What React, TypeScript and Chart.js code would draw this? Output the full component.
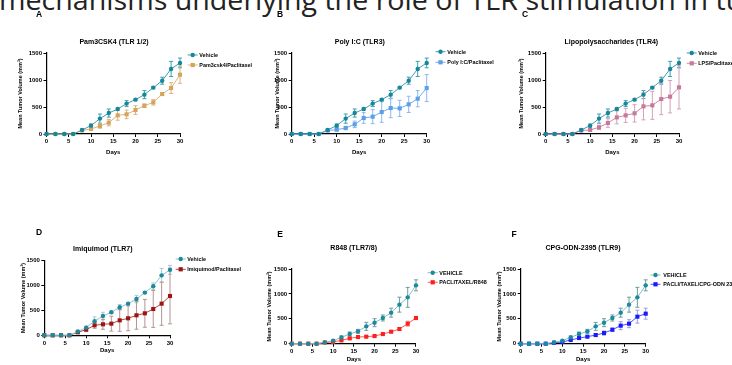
import React, { useEffect, useRef } from 'react';
import { Chart, registerables } from 'chart.js';

Chart.register(...registerables);

const DAYS = [0, 2, 4, 6, 8, 10, 12, 14, 16, 18, 20, 22, 24, 26, 28, 30];
const X_TICKS = [0, 5, 10, 15, 20, 25, 30];
const Y_TICKS = [0, 500, 1000, 1500];

const VEHICLE_TLR = [0, 0, 0, 0, 75, 155, 285, 388, 462, 563, 636, 729, 859, 987, 1205, 1316];
const VEHICLE_TLR_ERR = [0, 0, 0, 0, 12, 30, 85, 75, 20, 55, 15, 75, 20, 65, 140, 90];

const PAM3 = [0, 0, 0, 0, 68, 93, 148, 210, 345, 364, 444, 524, 586, 740, 851, 1098];
const PAM3_ERR = [0, 0, 0, 0, 10, 20, 40, 60, 90, 80, 80, 30, 50, 20, 100, 160];

const POLYIC = [0, 0, 0, 0, 65, 80, 111, 179, 296, 321, 407, 481, 475, 549, 654, 851];
const POLYIC_ERR = [0, 0, 0, 0, 10, 20, 30, 60, 100, 130, 190, 180, 150, 150, 150, 250];

const LPS = [0, 0, 0, 0, 65, 75, 123, 204, 308, 345, 383, 512, 531, 648, 691, 864];
const LPS_ERR = [0, 0, 0, 0, 10, 20, 40, 80, 120, 130, 160, 250, 260, 290, 300, 400];

const IMIQ = [0, 0, 0, 0, 60, 114, 201, 221, 234, 301, 342, 402, 442, 529, 636, 790];
const IMIQ_ERR = [0, 0, 0, 0, 20, 40, 60, 100, 150, 220, 250, 280, 280, 370, 435, 560];

const VEHICLE_TLR7 = [0, 0, 0, 0, 27, 60, 127, 194, 248, 348, 422, 516, 623, 784, 931, 1172];
const VEHICLE_TLR7_ERR = [0, 0, 0, 0, 5, 10, 30, 40, 40, 80, 80, 60, 90, 150, 200, 110];

const R848 = [0, 0, 0, 0, 25, 35, 67, 107, 134, 141, 154, 194, 241, 295, 402, 516];
const R848_ERR = [0, 0, 0, 0, 5, 5, 10, 15, 10, 10, 15, 20, 15, 30, 50, 25];

const CPG = [0, 0, 0, 0, 20, 34, 74, 114, 141, 174, 214, 281, 362, 402, 543, 603];
const CPG_ERR = [0, 0, 0, 0, 5, 8, 15, 20, 20, 30, 40, 30, 80, 80, 130, 110];

const FONT = '"Liberation Sans", Arial, Helvetica, sans-serif';
const Y_TITLE = 'Mean Tumor Volume (mm\u00B3)';

type Series = {
  label: string;
  values: number[];
  errors: number[];
  color: string;
  lineColor: string;
  errColor: string;
  style: 'circle' | 'rect';
};

type PanelCfg = {
  letter: string;
  letterX: number;
  letterY: number;
  title: string;
  titleX: number;
  titleY: number;
  area: { l: number; t: number; r: number; b: number };
  yTitleX: number;
  xTitleY: number;
  legendX: number;
  legendTextX: number;
  legendY: number[];
  series: Series[];
};

const teal = '#17869a';
const tealLine = '#3d9fb0';

const vehA = (label: string): Series => ({
  label,
  values: VEHICLE_TLR,
  errors: VEHICLE_TLR_ERR,
  color: teal,
  lineColor: tealLine,
  errColor: tealLine,
  style: 'circle',
});

const PANELS: PanelCfg[] = [
  {
    letter: 'A', letterX: 39, letterY: 14.5,
    title: 'Pam3CSK4 (TLR 1/2)', titleX: 114, titleY: 42,
    area: { l: 46.5, t: 53, r: 180, b: 134 }, yTitleX: 20.5, xTitleY: 152,
    legendX: 192.7, legendTextX: 199.3, legendY: [55, 65],
    series: [
      vehA('Vehicle'),
      { label: 'Pam3csk4/Paclitaxel', values: PAM3, errors: PAM3_ERR, color: '#d4a35c', lineColor: '#dcb47c', errColor: '#dcb47c', style: 'rect' },
    ],
  },
  {
    letter: 'B', letterX: 280, letterY: 14.5,
    title: 'Poly I:C (TLR3)', titleX: 359.8, titleY: 42,
    area: { l: 291.7, t: 53, r: 426.7, b: 134 }, yTitleX: 277.7, xTitleY: 152,
    legendX: 440.5, legendTextX: 447.3, legendY: [51.7, 62.3],
    series: [
      vehA('Vehicle'),
      { label: 'Poly I:C/Paclitaxel', values: POLYIC, errors: POLYIC_ERR, color: '#5c9ee8', lineColor: '#74abec', errColor: '#8ab9f0', style: 'rect' },
    ],
  },
  {
    letter: 'C', letterX: 525, letterY: 15,
    title: 'Lipopolysaccharides (TLR4)', titleX: 611.3, titleY: 42,
    area: { l: 545.7, t: 53, r: 679, b: 134 }, yTitleX: 521.7, xTitleY: 152,
    legendX: 691.7, legendTextX: 698.3, legendY: [53, 63.3],
    series: [
      vehA('Vehicle'),
      { label: 'LPS/Paclitaxel', values: LPS, errors: LPS_ERR, color: '#c7799b', lineColor: '#cf8aa8', errColor: '#d6a0b6', style: 'rect' },
    ],
  },
  {
    letter: 'D', letterX: 39, letterY: 232.7,
    title: 'Imiquimod (TLR7)', titleX: 102.8, titleY: 248.7,
    area: { l: 44.3, t: 260.7, r: 170, b: 335.3 }, yTitleX: 23.3, xTitleY: 350.7,
    legendX: 180.7, legendTextX: 187.3, legendY: [259, 269.3],
    series: [
      { label: 'Vehicle', values: VEHICLE_TLR, errors: VEHICLE_TLR_ERR, color: '#1a8a9c', lineColor: '#86c4cc', errColor: '#a9c9cc', style: 'circle' },
      { label: 'Imiquimod/Paclitaxel', values: IMIQ, errors: IMIQ_ERR, color: '#9e1414', lineColor: '#b04848', errColor: '#b89494', style: 'rect' },
    ],
  },
  {
    letter: 'E', letterX: 280, letterY: 235,
    title: 'R848 (TLR7/8)', titleX: 353.7, titleY: 248.3,
    area: { l: 291.7, t: 269, r: 416, b: 343.7 }, yTitleX: 269.3, xTitleY: 359.3,
    legendX: 432.7, legendTextX: 439.3, legendY: [272.7, 282.3],
    series: [
      { label: 'VEHICLE', values: VEHICLE_TLR7, errors: VEHICLE_TLR7_ERR, color: '#1a8a9c', lineColor: '#7fc0c8', errColor: '#6f9ca0', style: 'circle' },
      { label: 'PACLITAXEL/R848', values: R848, errors: R848_ERR, color: '#ff1e1e', lineColor: '#ff5a5a', errColor: '#e89090', style: 'rect' },
    ],
  },
  {
    letter: 'F', letterX: 514, letterY: 235,
    title: 'CPG-ODN-2395 (TLR9)', titleX: 583, titleY: 248.3,
    area: { l: 520.7, t: 269, r: 645.7, b: 343.7 }, yTitleX: 499.3, xTitleY: 359.3,
    legendX: 655.5, legendTextX: 663.3, legendY: [275, 284.3],
    series: [
      { label: 'VEHICLE', values: VEHICLE_TLR7, errors: VEHICLE_TLR7_ERR, color: '#1a8a9c', lineColor: '#7fc0c8', errColor: '#6f9ca0', style: 'circle' },
      { label: 'PACLI/TAXEL/CPG-ODN 2395', values: CPG, errors: CPG_ERR, color: '#1a1aff', lineColor: '#5050ff', errColor: '#9c9ce6', style: 'rect' },
    ],
  },
];

const W = 732;
const H = 365;

const errorBarPlugin = {
  id: 'errorBars',
  beforeDatasetsDraw(chart: any) {
    const { ctx, scales } = chart;
    const x = scales.x;
    const y = scales.y;
    chart.data.datasets.forEach((ds: any) => {
      const err: number[] = ds.errors;
      if (!err) return;
      ctx.save();
      ctx.strokeStyle = ds.errColor;
      ctx.lineWidth = 1;
      ds.data.forEach((p: any, j: number) => {
        const e = err[j];
        if (!e) return;
        const px = x.getPixelForValue(p.x);
        const y1 = y.getPixelForValue(p.y + e);
        const y2 = y.getPixelForValue(Math.max(0, p.y - e));
        ctx.beginPath();
        ctx.moveTo(px, y1);
        ctx.lineTo(px, y2);
        ctx.moveTo(px - 2, y1);
        ctx.lineTo(px + 2, y1);
        ctx.moveTo(px - 2, y2);
        ctx.lineTo(px + 2, y2);
        ctx.stroke();
      });
      ctx.restore();
    });
  },
};

const decorPlugin = {
  id: 'decor',
  afterDraw(chart: any) {
    const cfg: PanelCfg = chart.options.plugins.decor.cfg;
    const { ctx } = chart;
    ctx.save();
    ctx.fillStyle = '#000';
    ctx.textAlign = 'center';
    ctx.textBaseline = 'middle';
    ctx.font = `bold 8.5px ${FONT}`;
    ctx.fillText(cfg.letter, cfg.letterX, cfg.letterY);
    ctx.font = `bold 7px ${FONT}`;
    ctx.fillText(cfg.title, cfg.titleX, cfg.titleY);
    ctx.textAlign = 'left';
    ctx.font = `bold 5.4px ${FONT}`;
    cfg.series.forEach((s, i) => {
      const yy = cfg.legendY[i];
      const mx = cfg.legendX;
      ctx.strokeStyle = s.lineColor;
      ctx.lineWidth = 1;
      ctx.beginPath();
      ctx.moveTo(mx - 5, yy);
      ctx.lineTo(mx + 5, yy);
      ctx.stroke();
      ctx.fillStyle = s.color;
      if (s.style === 'circle') {
        ctx.beginPath();
        ctx.arc(mx, yy, 2.2, 0, Math.PI * 2);
        ctx.fill();
      } else {
        ctx.fillRect(mx - 2.1, yy - 2.1, 4.2, 4.2);
      }
      ctx.fillStyle = '#000';
      ctx.fillText(s.label, cfg.legendTextX, yy + 0.5);
    });
    ctx.restore();
  },
};

function Panel({ cfg }: { cfg: PanelCfg }) {
  const ref = useRef<HTMLCanvasElement | null>(null);
  useEffect(() => {
    const canvas = ref.current;
    if (!canvas) return;
    const { l, t, r, b } = cfg.area;
    const yTitleSize = 5.5;
    const xTitleSize = 6;
    const yLh = yTitleSize * 1.2;
    const xLh = xTitleSize * 1.2;
    const scaleLeft = cfg.yTitleX - yLh / 2;
    const yWidth = l - scaleLeft;
    const xHeight = cfg.xTitleY + xLh / 2 - b;
    const padBottom = H - (b + xHeight);
    const tickFont = { family: FONT, size: 6, weight: 'bold' as const };
    const chart = new Chart(canvas, {
      type: 'line',
      data: {
        datasets: cfg.series.map((s) => ({
          label: s.label,
          data: DAYS.map((d, i) => ({ x: d, y: s.values[i] })),
          borderColor: s.lineColor,
          backgroundColor: s.color,
          pointBackgroundColor: s.color,
          pointBorderColor: s.color,
          pointBorderWidth: 0,
          pointStyle: s.style,
          pointRadius: s.style === 'rect' ? 2.9 : 2.2,
          borderWidth: 1,
          tension: 0,
          clip: false,
          errors: s.errors,
          errColor: s.errColor,
        })) as any,
      },
      options: {
        responsive: false,
        animation: false,
        events: [],
        layout: {
          autoPadding: false,
          padding: { left: scaleLeft, top: t, right: W - r, bottom: padBottom },
        },
        plugins: {
          legend: { display: false },
          title: { display: false },
          tooltip: { enabled: false },
          decor: { cfg },
        } as any,
        scales: {
          x: {
            type: 'linear',
            min: 0,
            max: 30,
            afterBuildTicks: (s: any) => {
              s.ticks = X_TICKS.map((v) => ({ value: v }));
            },
            afterFit: (s: any) => {
              s.height = xHeight;
            },
            grid: { display: true, drawOnChartArea: false, drawTicks: true, tickLength: 3, color: '#000', lineWidth: 1 },
            border: { display: true, color: '#000', width: 1.2 },
            ticks: { font: tickFont, color: '#000', padding: 1, autoSkip: false, maxRotation: 0, callback: (v: any) => String(v) },
            title: { display: true, text: 'Days', color: '#000', font: { family: FONT, size: xTitleSize, weight: 'bold' }, padding: 0 },
          },
          y: {
            type: 'linear',
            min: 0,
            max: 1500,
            afterBuildTicks: (s: any) => {
              s.ticks = Y_TICKS.map((v) => ({ value: v }));
            },
            afterFit: (s: any) => {
              s.width = yWidth;
            },
            grid: { display: true, drawOnChartArea: false, drawTicks: true, tickLength: 3, color: '#000', lineWidth: 1 },
            border: { display: true, color: '#000', width: 1.2 },
            ticks: { font: tickFont, color: '#000', padding: 1.5, autoSkip: false, callback: (v: any) => String(v) },
            title: { display: true, text: Y_TITLE, color: '#000', font: { family: FONT, size: yTitleSize, weight: 'bold' }, padding: 0 },
          },
        },
      },
      plugins: [errorBarPlugin, decorPlugin],
    });
    return () => chart.destroy();
  }, [cfg]);
  return (
    <canvas
      ref={ref}
      width={W}
      height={H}
      style={{ position: 'absolute', left: 0, top: 0, width: W, height: H, pointerEvents: 'none' }}
    />
  );
}

export default function App() {
  return (
    <div
      style={{
        position: 'fixed',
        left: 0,
        top: 0,
        width: W,
        height: H,
        background: '#fff',
        overflow: 'hidden',
      }}
    >
      <div
        style={{
          position: 'absolute',
          left: -1,
          top: -14,
          whiteSpace: 'nowrap',
          fontFamily: '"Open Sans", sans-serif',
          fontSize: 27,
          lineHeight: 1,
          color: '#222',
          transform: 'scaleX(1.06)',
          transformOrigin: '0 0',
        }}
      >
        mechanisms underlying the role of TLR stimulation in tumor
      </div>
      {PANELS.map((p) => (
        <Panel key={p.letter} cfg={p} />
      ))}
    </div>
  );
}
